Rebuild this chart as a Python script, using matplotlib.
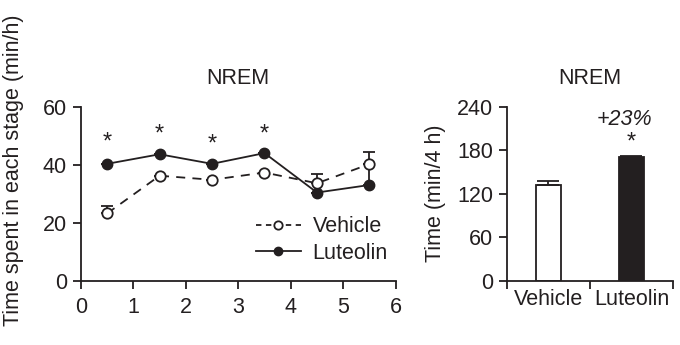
import matplotlib.pyplot as plt
from matplotlib.lines import Line2D

plt.rcParams['font.family'] = ['Liberation Sans', 'DejaVu Sans']

# time course data (min/h)
hours = [0.5, 1.5, 2.5, 3.5, 4.5, 5.5]
vehicle = [23.2, 36.2, 34.8, 37.3, 33.6, 40.2]
vehicle_err = [2.6, 0, 0, 0, 3.3, 4.1]
luteolin = [40.3, 43.6, 40.3, 44.0, 30.4, 33.0]
luteolin_err = [0, 0, 0, 0, 0, 7.2]
star_hours = [0.5, 1.5, 2.5, 3.5]
star_y = [47.5, 50.5, 47.0, 50.5]

# total over 4 h
groups = ['Vehicle', 'Luteolin']
totals = [132.5, 170.5]
totals_err = [5.5, 1.5]

ink = '#231f20'
fs = 15.5

fig = plt.figure(figsize=(6.8, 3.45), dpi=100)

# --- left panel: time course ---
ax = fig.add_axes([0.119, 0.1864, 0.4628, 0.5043])
ax.errorbar(hours, luteolin, yerr=[[0] * 6, luteolin_err], fmt='none',
            ecolor=ink, capsize=4, elinewidth=1.3, capthick=1.3, zorder=1)
ax.errorbar(hours, vehicle, yerr=[[0] * 6, vehicle_err], fmt='none',
            ecolor=ink, capsize=4, elinewidth=1.3, capthick=1.3, zorder=1)
ax.plot(hours, luteolin, color=ink, lw=1.3, marker='o', ms=7.5,
        mfc=ink, mec=ink, zorder=2)
ax.plot(hours, vehicle, color=ink, lw=1.3, ls=(0, (5, 4)), marker='o', ms=7.5,
        mfc='white', mec=ink, mew=1.3, zorder=3)
for h, y in zip(star_hours, star_y):
    ax.text(h, y, '*', ha='center', va='center', fontsize=17, color=ink)

ax.set_xlim(0, 6)
ax.set_ylim(0, 60)
ax.set_xticks(range(7))
ax.set_yticks([0, 20, 40, 60])
ax.set_title('NREM', fontsize=fs, color=ink, pad=16)
ax.set_ylabel('Time spent in each stage (min/h)', fontsize=fs, color=ink)
ax.yaxis.set_label_coords(-0.18, 0.635)

handles = [
    Line2D([], [], color=ink, lw=1.3, ls=(0, (3, 2.5)), marker='o', ms=6,
           mfc='white', mec=ink, mew=1.3),
    Line2D([], [], color=ink, lw=1.3, marker='o', ms=6, mfc=ink, mec=ink),
]
leg = ax.legend(handles, ['Vehicle', 'Luteolin'], loc='upper left',
                bbox_to_anchor=(0.555, 0.37), frameon=False, fontsize=fs,
                handlelength=2.1, handletextpad=0.55, labelspacing=0.25,
                borderaxespad=0, borderpad=0)
for t in leg.get_texts():
    t.set_color(ink)

# --- right panel: total ---
bx = fig.add_axes([0.7456, 0.1864, 0.244, 0.5043])
bx.bar([0.5, 1.5], totals, width=0.31, color=['white', ink], edgecolor=ink,
       lw=1.3, yerr=[[0, 0], totals_err], capsize=8,
       error_kw=dict(elinewidth=1.3, capthick=1.3, ecolor=ink))
bx.text(1.5, 191, '*', ha='center', va='center', fontsize=17, color=ink)
bx.text(1.42, 223, '+23%', ha='center', va='center', fontsize=fs,
        style='italic', color=ink)
bx.set_xlim(0, 2)
bx.set_ylim(0, 240)
bx.set_yticks([0, 60, 120, 180, 240])
bx.set_xticks([0, 1, 2])
bx.set_xticklabels([])
bx.set_xticks([0.5, 1.5], minor=True)
bx.set_xticklabels(groups, minor=True)
bx.set_title('NREM', fontsize=fs, color=ink, pad=16)
bx.set_ylabel('Time (min/4 h)', fontsize=fs, color=ink)
bx.yaxis.set_label_coords(-0.37, 0.5)

for a in (ax, bx):
    a.spines[['top', 'right']].set_visible(False)
    for s in ('left', 'bottom'):
        a.spines[s].set_linewidth(1.3)
        a.spines[s].set_color(ink)
    a.tick_params(which='both', direction='out', length=6, width=1.3,
                  labelsize=fs, colors=ink, pad=4)
    a.tick_params(axis='x', which='both', pad=6)
    a.tick_params(axis='x', which='minor', length=0)

fig.savefig('out.png', dpi=100)
